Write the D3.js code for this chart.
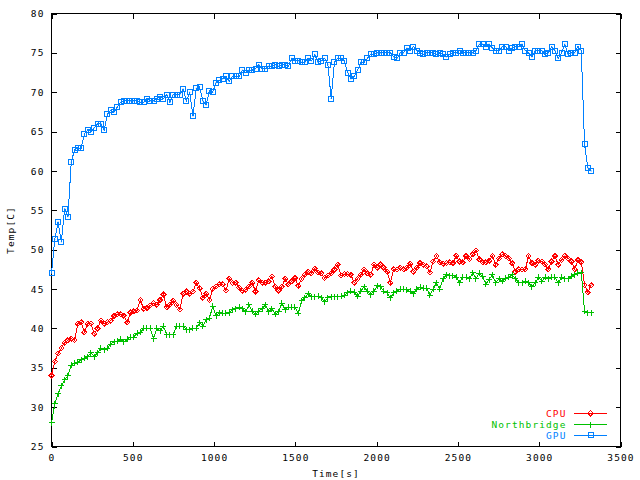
<!DOCTYPE html>
<html>
<head>
<meta charset="utf-8">
<script src="https://cdn.jsdelivr.net/npm/d3@7/dist/d3.min.js"></script>
<style>
  body { margin: 0; background: #fff; }
  svg text { font-family: "DejaVu Sans Mono", monospace; font-size: 9.5px; letter-spacing: 1.1px; }
</style>
</head>
<body>
<div id="chart"></div>
<script>
// samples were logged roughly every 20 s
const sampleStep = 20.24;

const cpuTemp = [
  34.0, 35.8, 36.8, 37.5, 38.2, 38.5, 38.7, 38.5, 40.6, 40.8,
  39.5, 40.6, 40.6, 39.3, 40.0, 41.0, 40.6, 40.8, 41.0, 41.6,
  41.8, 41.8, 41.6, 40.8, 42.0, 42.2, 42.3, 43.6, 42.5, 42.6,
  42.9, 43.2, 43.0, 43.6, 44.3, 42.7, 43.0, 43.5, 43.0, 42.4,
  44.4, 44.7, 44.4, 44.7, 45.8, 45.1, 43.9, 44.4, 43.6, 45.0,
  45.3, 45.6, 45.6, 44.8, 46.3, 45.8, 45.8, 45.2, 44.8, 44.9,
  45.3, 45.8, 44.7, 46.1, 45.8, 45.8, 46.0, 46.6, 45.3, 44.8,
  45.3, 46.3, 45.6, 46.0, 46.4, 45.4, 46.3, 46.8, 47.2, 47.0,
  47.6, 47.1, 47.0, 46.4, 46.7, 47.0, 47.5, 48.1, 46.7, 46.9,
  46.9, 46.8, 45.8, 46.3, 46.8, 47.5, 47.0, 46.8, 48.1, 47.7,
  48.1, 47.7, 47.2, 45.8, 47.5, 47.5, 47.7, 47.5, 47.7, 48.2,
  47.2, 47.7, 48.3, 48.1, 47.9, 47.1, 48.5, 49.2, 48.4, 48.2,
  48.3, 48.4, 48.3, 49.2, 48.5, 48.4, 49.2, 48.8, 49.4, 49.9,
  48.8, 48.4, 48.4, 48.6, 49.2, 48.1, 48.9, 49.4, 49.2, 48.9,
  48.3, 47.2, 47.5, 47.5, 47.5, 49.2, 48.3, 48.1, 48.6, 48.5,
  48.1, 47.5, 48.5, 49.2, 48.1, 48.7, 49.2, 48.9, 48.5, 47.5,
  48.7, 48.4, 45.5, 44.6, 45.5
];

const northbridgeTemp = [
  28.0, 30.4, 31.7, 32.7, 33.5, 34.0, 35.3, 35.6, 35.7, 36.0,
  36.2, 36.4, 36.9, 36.4, 36.9, 37.5, 37.3, 37.5, 38.0, 38.3,
  38.4, 38.6, 38.3, 38.6, 38.9, 38.9, 39.4, 39.5, 40.0, 40.0,
  40.0, 38.7, 40.0, 39.7, 40.3, 39.2, 39.2, 39.2, 40.3, 40.3,
  40.3, 39.8, 39.8, 40.0, 40.0, 40.7, 40.3, 41.1, 41.3, 42.8,
  41.6, 42.0, 41.9, 41.9, 42.0, 42.4, 42.5, 42.7, 42.5, 42.1,
  43.0, 42.2, 41.8, 42.2, 42.5, 43.0, 42.1, 42.5, 41.8, 42.1,
  43.2, 42.4, 42.7, 42.7, 42.7, 41.9, 43.5, 43.9, 44.4, 44.0,
  44.0, 44.1, 43.9, 43.4, 43.9, 44.0, 44.0, 44.0, 44.1, 44.2,
  44.5, 44.7, 44.6, 44.1, 44.7, 45.3, 44.7, 44.3, 44.7, 45.4,
  45.3, 44.7, 44.5, 43.9, 44.5, 44.7, 45.0, 45.0, 44.9, 44.7,
  44.4, 45.0, 45.2, 45.1, 45.1, 44.2, 45.0, 45.8, 45.0, 46.3,
  46.8, 46.7, 46.7, 46.5, 45.8, 46.5, 46.5, 46.3, 47.1, 46.3,
  47.0, 46.6, 45.6, 46.2, 46.8, 45.8, 46.3, 46.0, 46.4, 46.5,
  46.8, 46.3, 45.8, 45.8, 46.0, 45.8, 45.3, 45.8, 46.5, 46.0,
  46.5, 46.3, 46.5, 46.5, 45.8, 46.5, 46.3, 46.3, 46.6, 46.8,
  47.0, 47.1, 42.2, 42.0, 42.0
];

const gpuTemp = [
  47.0, 51.3, 53.5, 51.0, 55.2, 54.2, 61.1, 62.7, 62.9, 62.9,
  64.7, 65.2, 65.0, 65.5, 66.0, 66.0, 65.2, 67.2, 67.7, 67.5,
  68.1, 68.7, 68.9, 68.9, 68.9, 68.9, 68.9, 68.7, 68.7, 69.2,
  68.9, 68.9, 69.2, 69.4, 69.2, 69.7, 68.7, 69.7, 69.7, 69.7,
  70.4, 68.9, 70.0, 67.0, 70.5, 70.7, 68.9, 68.4, 70.2, 70.0,
  71.2, 71.5, 71.7, 72.0, 71.4, 72.0, 72.0, 72.0, 72.8, 72.5,
  72.8, 72.8, 73.0, 73.5, 73.0, 73.0, 73.3, 73.3, 73.5, 73.3,
  73.5, 73.5, 73.3, 74.3, 74.0, 74.0, 73.8, 73.8, 74.3, 74.0,
  74.8, 73.8, 74.0, 74.3, 73.5, 69.2, 73.8, 74.3, 74.3, 74.0,
  72.5, 71.7, 72.0, 72.8, 73.8, 73.8, 74.3, 74.8, 74.8, 75.0,
  75.0, 75.0, 75.0, 75.0, 74.5, 74.3, 75.0, 75.0, 75.6, 75.3,
  75.8, 75.3, 75.0, 74.8, 75.0, 75.0, 75.0, 74.8, 75.0, 74.8,
  74.5, 74.8, 75.0, 75.0, 75.3, 75.0, 75.0, 75.0, 75.0, 75.3,
  76.1, 76.1, 75.8, 76.1, 75.6, 75.3, 75.3, 75.8, 75.8, 75.3,
  75.6, 75.8, 75.8, 76.1, 75.3, 75.0, 74.5, 75.3, 75.3, 75.3,
  74.8, 75.0, 75.8, 75.3, 74.3, 75.0, 76.1, 74.8, 75.0, 75.0,
  75.8, 75.3, 63.4, 60.4, 60.0
];

const xTicks = [0, 500, 1000, 1500, 2000, 2500, 3000, 3500];
const yTicks = [25, 30, 35, 40, 45, 50, 55, 60, 65, 70, 75, 80];

const seriesNames = ['CPU', 'Northbridge', 'GPU'];
const seriesColors = ['#ff0000', '#00c000', '#0080ff'];
const seriesSymbols = ['diamond', 'plus', 'box'];

let margin = { top: 13.5, left: 51.5, right: 19.5, bottom: 33.5 };
let width = 640 - margin.left - margin.right;
let height = 480 - margin.top - margin.bottom;

let svg = d3.select('#chart')
  .append('svg')
  .attr('width', 640)
  .attr('height', 480)
  .append('g')
  .attr('transform', 'translate(' + margin.left + ',' + margin.top + ')');

const xScale = d3.scaleLinear().domain([0, 3500]).range([0, width]);
const yScale = d3.scaleLinear().domain([25, 80]).range([height, 0]);

// axes, gnuplot style: ticks inside, mirrored on top and right
svg.append('g')
  .attr('transform', `translate(0, ${height})`)
  .call(d3.axisBottom(xScale).tickValues(xTicks).tickSize(-5).tickPadding(8).tickFormat(d3.format('d')));
svg.append('g')
  .call(d3.axisTop(xScale).tickValues(xTicks).tickSize(-5).tickFormat(''));
svg.append('g')
  .call(d3.axisLeft(yScale).tickValues(yTicks).tickSize(-5).tickPadding(7).tickFormat(d3.format('d')));
svg.append('g')
  .attr('transform', `translate(${width}, 0)`)
  .call(d3.axisRight(yScale).tickValues(yTicks).tickSize(-5).tickFormat(''));

svg.selectAll('.domain').remove();
svg.selectAll('.tick line').attr('stroke', '#000').attr('shape-rendering', 'crispEdges');
svg.selectAll('.tick text').attr('fill', '#000').attr('font-size', null).attr('font-family', null);

svg.append('rect')
  .attr('x', 0).attr('y', 0)
  .attr('width', width).attr('height', height)
  .attr('fill', 'none').attr('stroke', '#000')
  .attr('shape-rendering', 'crispEdges');

// axis labels
svg.append('text')
  .attr('x', width / 2)
  .attr('y', height + 27)
  .attr('dy', '0.35em')
  .attr('text-anchor', 'middle')
  .text('Time[s]');

svg.append('text')
  .attr('transform', `translate(${11 - margin.left}, ${height / 2}) rotate(-90)`)
  .attr('dy', '0.35em')
  .attr('text-anchor', 'middle')
  .text('Temp[C]');

function symbolPath(kind) {
  if (kind === 'diamond') return 'M0,-2.5L2.5,0L0,2.5L-2.5,0Z';
  if (kind === 'plus') return 'M-3,0H3M0,-3V3';
  return 'M-2.5,-2.5H2.5V2.5H-2.5Z';
}

const allSeries = [cpuTemp, northbridgeTemp, gpuTemp];

const line = d3.line()
  .x((d, i) => xScale(i * sampleStep))
  .y(d => yScale(d));

allSeries.forEach((values, s) => {
  const color = seriesColors[s];
  const g = svg.append('g').attr('class', 'series');

  g.append('path')
    .datum(values)
    .attr('fill', 'none')
    .attr('stroke', color)
    .attr('stroke-width', 1)
    .attr('shape-rendering', 'crispEdges')
    .attr('d', line);

  g.selectAll('path.pt')
    .data(values)
    .enter()
    .append('path')
    .attr('class', 'pt')
    .attr('transform', (d, i) => `translate(${xScale(i * sampleStep)},${yScale(d)})`)
    .attr('d', symbolPath(seriesSymbols[s]))
    .attr('fill', 'none')
    .attr('stroke', color)
    .attr('stroke-width', 1)
    .attr('shape-rendering', 'crispEdges');

  if (seriesSymbols[s] !== 'plus') {
    g.selectAll('rect.dot')
      .data(values)
      .enter()
      .append('rect')
      .attr('class', 'dot')
      .attr('x', (d, i) => xScale(i * sampleStep) - 0.5)
      .attr('y', d => yScale(d) - 0.5)
      .attr('width', 1).attr('height', 1)
      .attr('fill', color);
  }
});

// legend, bottom right
const legendRows = [413.3, 424.7, 435.3].map(y => y - margin.top);
seriesNames.forEach((name, s) => {
  const y = legendRows[s];
  const color = seriesColors[s];
  const lx = 566.5 - margin.left;

  svg.append('text')
    .attr('x', lx)
    .attr('y', y)
    .attr('dy', '0.35em')
    .attr('text-anchor', 'end')
    .attr('fill', color)
    .text(name);

  svg.append('line')
    .attr('x1', lx + 7).attr('x2', lx + 40)
    .attr('y1', y).attr('y2', y)
    .attr('stroke', color)
    .attr('shape-rendering', 'crispEdges');

  svg.append('path')
    .attr('transform', `translate(${lx + 24},${y})`)
    .attr('d', symbolPath(seriesSymbols[s]))
    .attr('fill', 'none')
    .attr('stroke', color)
    .attr('shape-rendering', 'crispEdges');
});
</script>
</body>
</html>
